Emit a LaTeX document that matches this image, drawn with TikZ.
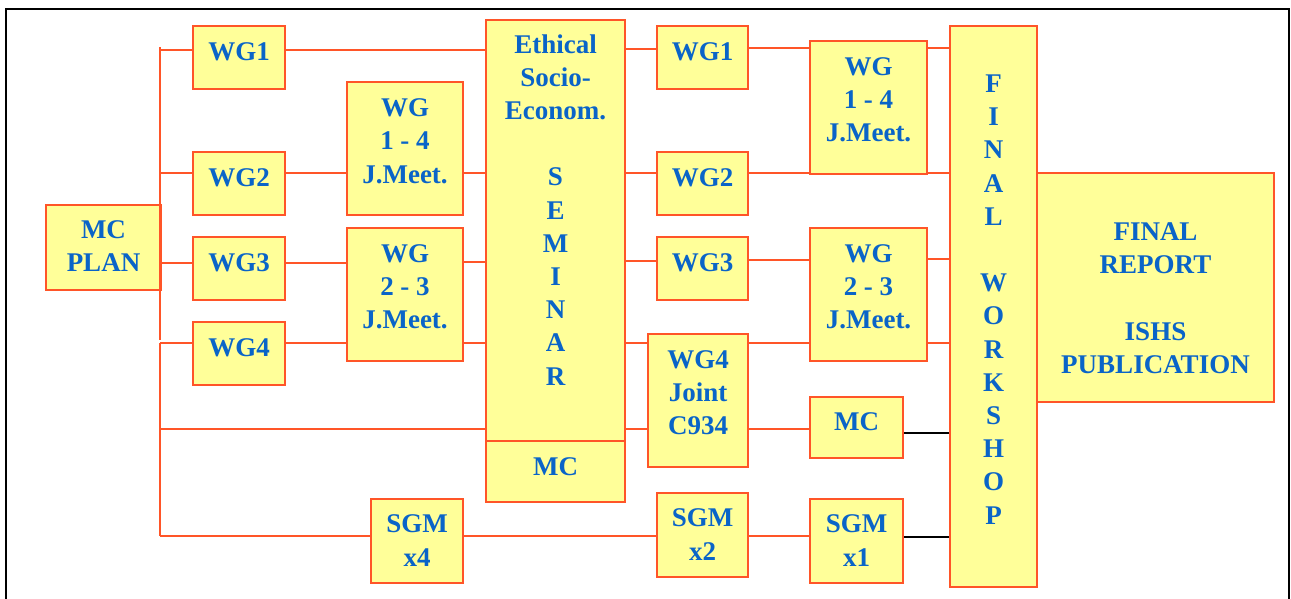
\documentclass[tikz,border=0pt]{standalone}
\usepackage{fontspec}
\setmainfont{Liberation Serif}
\definecolor{boxfill}{HTML}{FFFF99}
\definecolor{boxline}{HTML}{FF5528}
\definecolor{txt}{HTML}{0A64C8}
\tikzset{
  box/.style={draw=boxline, fill=boxfill, line width=2pt, inner sep=0pt,
    align=center, text=txt, font=\fontsize{27}{33.2}\selectfont\bfseries},
  conn/.style={draw=boxline, line width=2pt},
  blk/.style={draw=black, line width=1.6pt},
  frame/.style={draw=black, line width=2.6pt}
}
% name, x1, y1, x2, y2, last baseline, text
\newcommand\mkbox[7]{%
  \pgfmathsetmacro\bxcx{(#2+#4)/2}%
  \pgfmathsetmacro\bxcy{(#3+#5)/2}%
  \pgfmathsetmacro\bxw{#4-#2}%
  \pgfmathsetmacro\bxh{#5-#3}%
  \pgfmathsetmacro\bxdiff{2*(\bxcy-#6)}%
  \pgfmathsetmacro\bxhh{max(0,-\bxdiff)+10}%
  \pgfmathsetmacro\bxdd{max(0,\bxdiff)+10}%
  \node[box, minimum width=\bxw pt, minimum height=\bxh pt,
        text height=\bxhh pt, text depth=\bxdd pt] (#1) at (\bxcx,\bxcy) {#7};}
% horizontal connector from east of #2 to west of #3 at height #4
\newcommand\hcon[4][conn]{\draw[#1] (#2.east |- 0,#4) -- (#3.west |- 0,#4);}
\begin{document}
\begin{tikzpicture}[x=1pt,y=-1pt]
\useasboundingbox (0,0) rectangle (1291,599);
\clip (0,0) rectangle (1291,599);
% frame
\draw[frame] (6,610) -- (6,9) -- (1289,9) -- (1289,610);

% boxes
\mkbox{mcplan}{46}{205}{161}{290}{271.7}{MC\\PLAN}
\mkbox{wgla}{193}{26}{285}{89}{60.5}{WG1}
\mkbox{wglb}{193}{152}{285}{215}{186.5}{WG2}
\mkbox{wglc}{193}{237}{285}{300}{271.5}{WG3}
\mkbox{wgld}{193}{322}{285}{385}{356.5}{WG4}
\mkbox{jml}{347}{82}{463}{215}{183}{WG\\1 - 4\\J.Meet.}
\mkbox{jmlb}{347}{228}{463}{361}{328.7}{WG\\2 - 3\\J.Meet.}
\mkbox{sgmf}{371}{499}{463}{583}{566}{SGM\\x4}
\mkbox{sem}{486}{20}{625}{502}{385}{Ethical\\Socio-\\Econom.\\[33.2pt]S\\E\\M\\I\\N\\A\\R}
\mkbox{semmc}{486}{441}{625}{502}{475}{MC}
\mkbox{wgra}{657}{26}{748}{89}{60.7}{WG1}
\mkbox{wgrb}{657}{152}{748}{215}{186.7}{WG2}
\mkbox{wgrc}{657}{237}{748}{300}{271.7}{WG3}
\mkbox{wgj}{648}{334}{748}{467}{434.7}{WG4\\Joint\\C934}
\mkbox{sgmt}{657}{493}{748}{577}{560}{SGM\\x2}
\mkbox{jmr}{810}{41}{927}{174}{141.4}{WG\\1 - 4\\J.Meet.}
\mkbox{jmrb}{810}{228}{927}{361}{328.7}{WG\\2 - 3\\J.Meet.}
\mkbox{mcr}{810}{397}{903}{458}{430}{MC}
\mkbox{sgmo}{810}{499}{903}{583}{566}{SGM\\x1}
\mkbox{fw}{950}{26}{1037}{587}{524}{F\\I\\N\\A\\L\\[33.1pt]W\\O\\R\\K\\S\\H\\O\\P}
\mkbox{fr}{1037}{173}{1274}{402}{373.3}{FINAL\\REPORT\\[33.2pt]ISHS\\PUBLICATION}

% left bus
\coordinate (busa) at (160,47);
\coordinate (busb) at (160,340);
\coordinate (busc) at (160,343);
\coordinate (busd) at (160,536);
\draw[conn] (busa) -- (busb);
\draw[conn] (busc) -- (busd);
\coordinate (ba) at (160,50);
\coordinate (bb) at (160,173);
\coordinate (bc) at (160,429);
\draw[conn] (ba) -- (ba -| wgla.west);
\draw[conn] (bb) -- (bb -| wglb.west);
\draw[conn] (busc) -- (busc -| wgld.west);
\draw[conn] (bc) -- (bc -| sem.west);
\draw[conn] (busd) -- (busd -| sgmf.west);
\hcon{mcplan}{wglc}{263}

% left part
\hcon{wgla}{sem}{50}
\hcon{wglb}{jml}{173}
\hcon{wglc}{jmlb}{263}
\hcon{wgld}{jmlb}{343}
\hcon{jml}{sem}{173}
\hcon{jmlb}{sem}{262}
\hcon{jmlb}{sem}{343}
\hcon{sgmf}{sgmt}{536}

% seminar to right
\hcon{sem}{wgra}{49}
\hcon{sem}{wgrb}{173}
\hcon{sem}{wgrc}{261}
\hcon{sem}{wgj}{343}
\hcon{sem}{wgj}{429}

% to joint meetings
\hcon{wgra}{jmr}{48}
\hcon{wgrb}{jmr}{173}
\hcon{wgrc}{jmrb}{260}
\hcon{wgj}{jmrb}{343}
\hcon{wgj}{mcr}{429}
\hcon{sgmt}{sgmo}{536}

% to final workshop
\hcon{jmr}{fw}{48}
\hcon{jmr}{fw}{173}
\hcon{jmrb}{fw}{259}
\hcon{jmrb}{fw}{343}
\hcon[blk]{mcr}{fw}{433}
\hcon[blk]{sgmo}{fw}{537}
\end{tikzpicture}
\end{document}
